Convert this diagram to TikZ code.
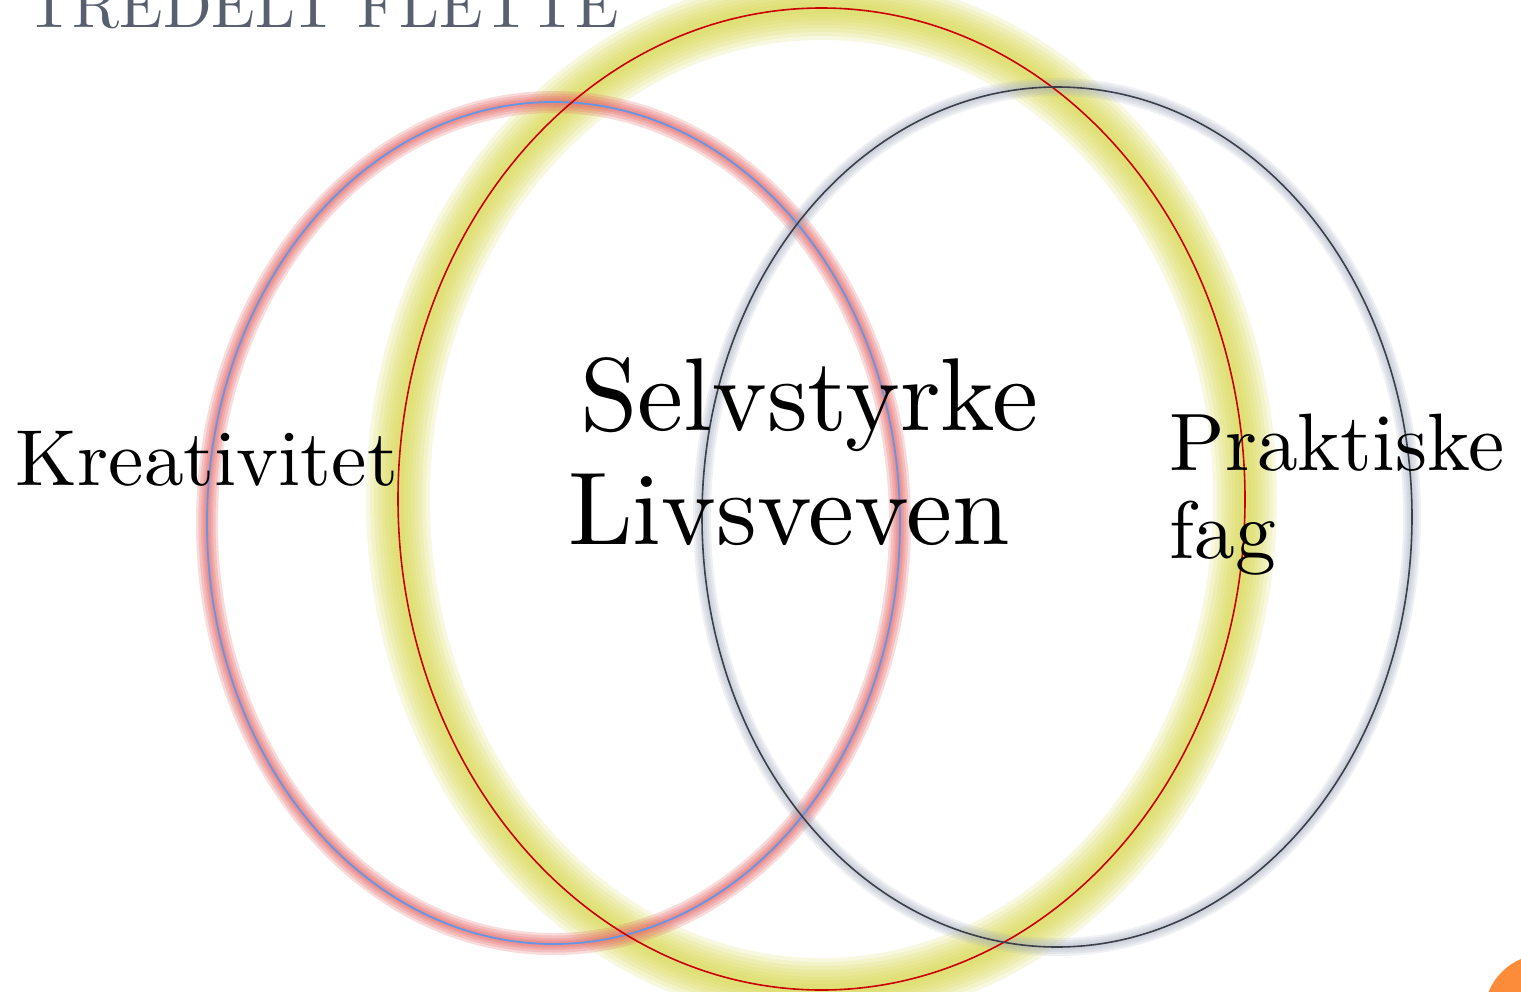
\documentclass[tikz,border=0pt]{standalone}
\usepackage{fontspec}
\setmainfont{lmroman10-regular.otf}
\definecolor{titlegray}{RGB}{88,95,110}
\definecolor{blueline}{RGB}{100,150,230}
\definecolor{redline}{RGB}{205,0,0}
\definecolor{grayline}{RGB}{60,62,72}
\definecolor{redglow}{RGB}{230,110,110}
\definecolor{yellowglow}{RGB}{215,215,80}
\definecolor{grayglow}{RGB}{160,168,188}
\definecolor{dotorange}{RGB}{253,140,58}
\tikzset{
  lbl/.style={anchor=base west, inner sep=0pt, text=black},
  glowlayer/.style={line width=#1, draw opacity=0.17},
}
\begin{document}
\begin{tikzpicture}[x=1pt,y=-1pt]
\useasboundingbox (0,0) rectangle (1521,991);
\clip (0,0) rectangle (1521,991);
\coordinate (cL) at (553.5,523);
\coordinate (cM) at (821.5,499);
\coordinate (cR) at (1057,517);
% glows
\foreach \w in {64,56,48,40,33,26,19,12}{
  \draw[yellowglow, glowlayer=\w pt] (cM) ellipse [x radius=423.5pt, y radius=491pt];
}
\foreach \w in {22,17,12,8,5}{
  \draw[redglow, glowlayer=\w pt, draw opacity=0.25] (cL) ellipse [x radius=346.5pt, y radius=421pt];
}
\foreach \w in {18,14,10,6}{
  \draw[grayglow, glowlayer=\w pt, draw opacity=0.16] (cR) ellipse [x radius=355pt, y radius=430pt];
}
% lines
\draw[blueline, line width=1.8pt] (cL) ellipse [x radius=346.5pt, y radius=421pt];
\draw[redline, line width=1.6pt] (cM) ellipse [x radius=423.5pt, y radius=491pt];
\draw[grayline, line width=1.6pt] (cR) ellipse [x radius=355pt, y radius=430pt];
% orange dot
\fill[dotorange] (1545,1015) circle [radius=61pt];
% texts
\node[lbl, text=titlegray, font=\fontsize{64}{70}\selectfont] (title) at (26,27) {TREDELT FLETTE};
\node[lbl, font=\fontsize{79.5}{88}\selectfont] (krea) at (15.5,485) {Kreativitet};
\node[lbl, font=\fontsize{103.5}{115}\selectfont] (selv) at (580,430) {Selvstyrke};
\node[lbl, font=\fontsize{103.5}{115}\selectfont] (livs) at (568,544) {Livsveven};
\node[lbl, font=\fontsize{81.5}{88}\selectfont] (prak) at (1169.5,470) {Praktiske};
\node[lbl, font=\fontsize{81.5}{88}\selectfont] (fag) at (1169.5,558) {fag};
\end{tikzpicture}
\end{document}
